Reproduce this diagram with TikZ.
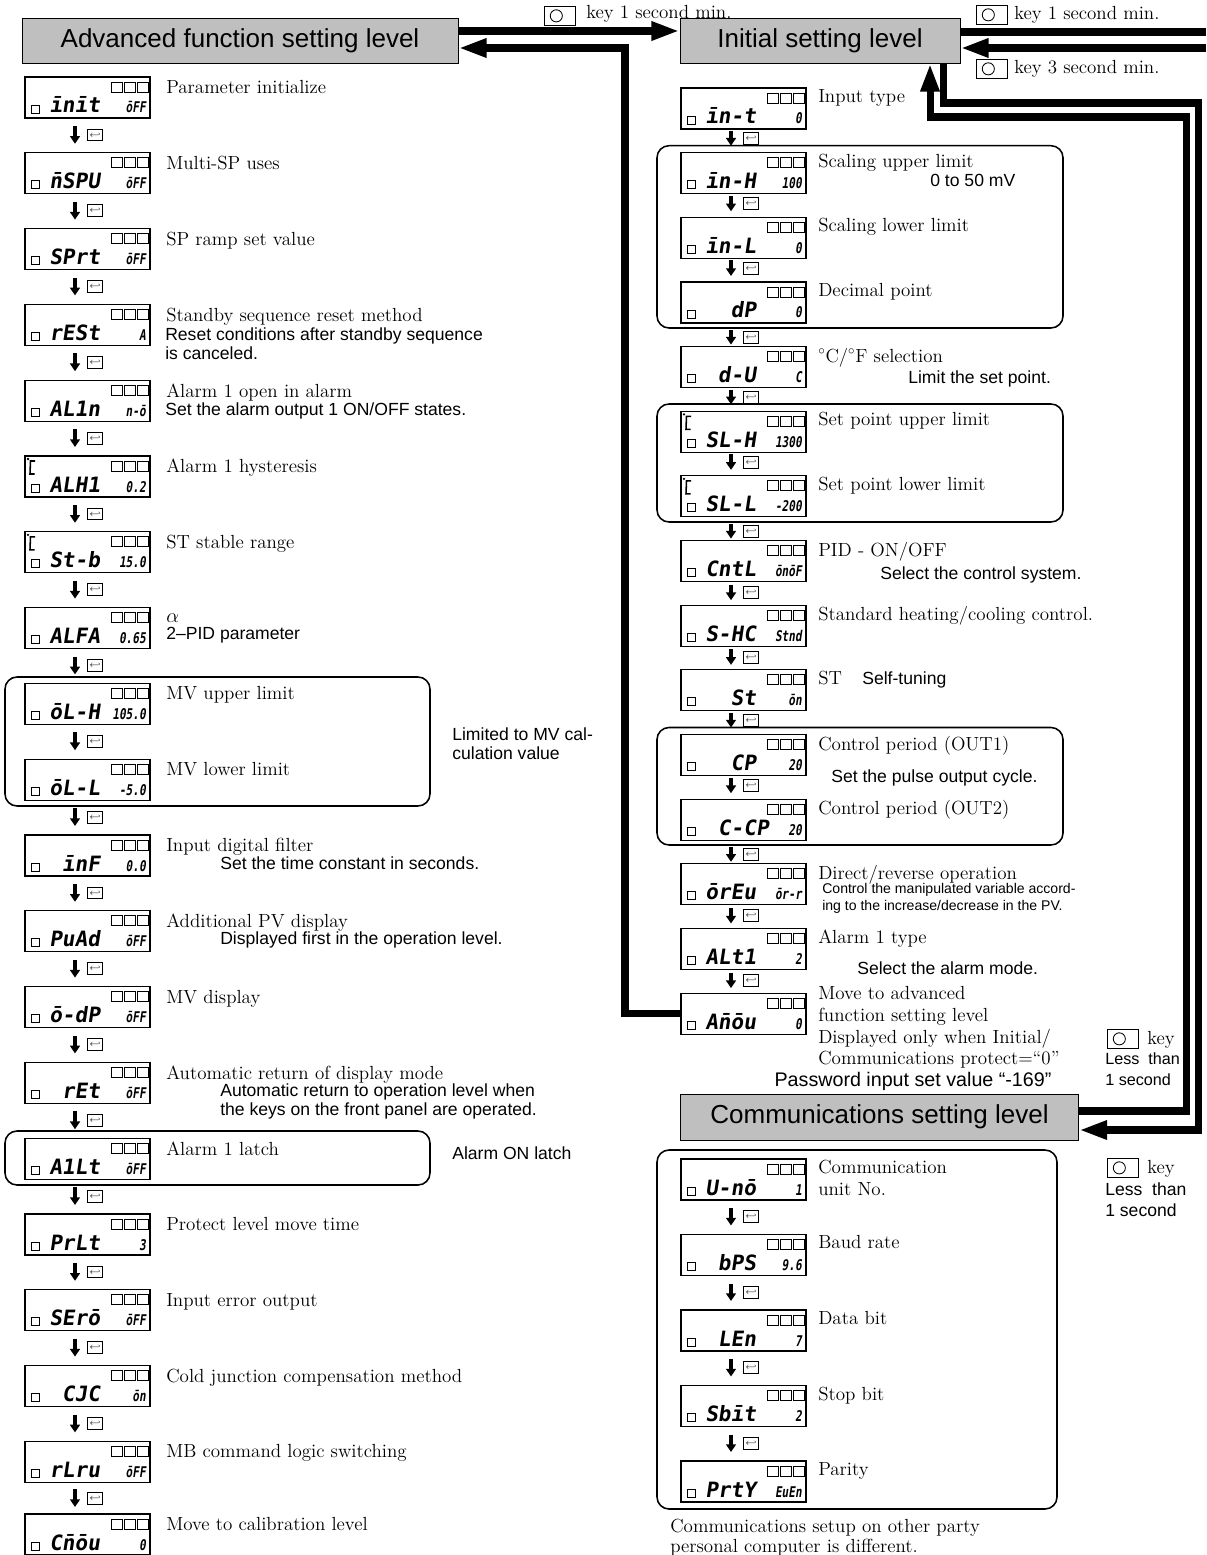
\documentclass[tikz,border=0pt]{standalone}
\usepackage{fontspec}
\setsansfont{Liberation Sans}
\newfontfamily\segfont[FakeSlant=0.15]{DejaVu Sans Mono}
\newfontfamily\segsmall[FakeSlant=0.15,FakeStretch=0.75]{DejaVu Sans Mono}
\usetikzlibrary{arrows.meta,calc}
\tikzset{
  lvl/.style={rectangle,draw,fill=black!25,line width=0.6pt,inner sep=0pt,
    minimum height=1.125cm,font=\sffamily\fontsize{18.5}{20}\selectfont},
  lcdbox/.style={rectangle,draw,line width=0.8pt,anchor=north west,inner sep=0pt,
    outer sep=0pt,minimum width=3.125cm,minimum height=1.025cm},
  lcdpix/.style={line width=0.7pt},
  segmain/.style={anchor=base west,inner sep=0pt,font=\segfont\bfseries\fontsize{15}{15}\selectfont},
  segval/.style={anchor=base east,inner sep=0pt,font=\segsmall\bfseries\fontsize{10.5}{10.5}\selectfont},
  lbl/.style={anchor=north west,inner sep=0pt,align=left,font=\fontsize{13.5}{15.5}\selectfont},
  note/.style={anchor=north west,inner sep=0pt,align=left,font=\sffamily\fontsize{12.5}{13.5}\selectfont},
  grp/.style={line width=1.1pt,rounded corners=0.3cm},
  flow/.style={line width=5pt,-{Triangle[length=20pt,width=12.5pt]}},
  flowline/.style={line width=5pt},
  modearrow/.style={line width=2.2pt,-{Triangle[length=5.5pt,width=7pt]}},
  modekey/.style={rectangle,draw,line width=0.6pt,inner sep=0pt,minimum width=11pt,
    minimum height=8.5pt,font=\fontsize{6}{6}\selectfont},
  keyicon/.style={rectangle,draw,line width=0.5pt,inner sep=0pt,anchor=north west,
    minimum width=22pt,minimum height=13.5pt,
    path picture={\draw[line width=0.6pt] ([xshift=8.5pt]path picture bounding box.west) circle (4.3pt);}}
}
% display: name, x, y, parameter, value, extra marks
\newcommand\lcd[6]{%
  \node[lcdbox] (#1) at (#2,#3) {};
  \begin{scope}[shift={(#2,#3)}]
    \foreach \k in {86,99,112} \draw[lcdpix] (\k,5) rectangle ++(11,10);
    \draw[lcdpix] (6,28) rectangle ++(8,8);
    \node[segmain] at (24,36) {#4};
    \node[segval] at (121,36) {#5};
    #6
  \end{scope}}
\newcommand\degc{\draw[line width=1.1pt] (10,5) -- (5.5,5) -- (5,18) -- (9.5,18); \fill (3,3) circle (0.9pt);}
% mode key step between two displays
\newcommand\nextp[4]{%
  \draw[modearrow] ($(#1.south west)+(50,#3)$) -- ($(#2.north west)+(50,-#4)$);
  \node[modekey] (k#2) at ($(#1.south west)!.5!(#2.north west)+(70,{(#3-#4)/2})$) {$\hookleftarrow$};}

\begin{document}
\begin{tikzpicture}[x=0.025cm,y=-0.025cm]
\useasboundingbox (0,0) rectangle (1206,1555);

% levels
\node[lvl,minimum width=10.9cm] (adv) at (240,40.5) {Advanced function setting level};
\node[lvl,minimum width=7cm] (init) at (820,40.5) {Initial setting level};
\node[lvl,minimum width=9.95cm,minimum height=1.15cm] (comm) at (879.5,1117) {Communications setting level};

% advanced function setting level
\lcd{pInit}{25}{77}{īnīt}{ōFF}{}
\node[lbl] (tInit) at (166,80) {Parameter initialize};
\lcd{pMspu}{25}{152.8}{n̄SPU}{ōFF}{}
\node[lbl] (tMspu) at (166,155.8) {Multi-SP uses};
\lcd{pSprt}{25}{228.6}{SPrt}{ōFF}{}
\node[lbl] (tSprt) at (166,231.6) {SP ramp set value};
\lcd{pRest}{25}{304.4}{rESt}{A}{}
\node[lbl] (tRest) at (166,307.4) {Standby sequence reset method};
\node[note] (nRest) at (165,327.5) {Reset conditions after standby sequence\\is canceled.};
\lcd{pAlon}{25}{380.2}{AL1n}{n-ō}{}
\node[lbl] (tAlon) at (166,383.2) {Alarm 1 open in alarm};
\node[note] (nAlon) at (165,402.5) {Set the alarm output 1 ON/OFF states.};
\lcd{pAlh}{25}{456}{ALH1}{0.2}{\degc}
\node[lbl] (tAlh) at (166,459) {Alarm 1 hysteresis};
\lcd{pStb}{25}{531.8}{St-b}{15.0}{\degc}
\node[lbl] (tStb) at (166,534.8) {ST stable range};
\lcd{pAlfa}{25}{607.6}{ALFA}{0.65}{}
\node[lbl,anchor=base west] (tAlfa) at (166,622) {$\alpha$};
\node[note] (nAlfa) at (166,627) {2--PID parameter};
\lcd{pOlh}{25}{683.4}{ōL-H}{105.0}{}
\node[lbl] (tOlh) at (166,686.4) {MV upper limit};
\lcd{pOll}{25}{759.2}{ōL-L}{-5.0}{}
\node[lbl] (tOll) at (166,762.2) {MV lower limit};
\lcd{pInf}{25}{835}{\ īnF}{0.0}{}
\node[lbl] (tInf) at (166,838) {Input digital filter};
\node[note] (nInf) at (220,856) {Set the time constant in seconds.};
\lcd{pPvad}{25}{910.8}{PuAd}{ōFF}{}
\node[lbl] (tPvad) at (166,913.8) {Additional PV display};
\node[note] (nPvad) at (220,931) {Displayed first in the operation level.};
\lcd{pOdp}{25}{986.6}{ō-dP}{ōFF}{}
\node[lbl] (tOdp) at (166,989.6) {MV display};
\lcd{pRet}{25}{1062.4}{\ rEt}{ōFF}{}
\node[lbl] (tRet) at (166,1065.4) {Automatic return of display mode};
\node[note] (nRet) at (220,1083) {Automatic return to operation level when\\the keys on the front panel are operated.};
\lcd{pAlt}{25}{1138.2}{A1Lt}{ōFF}{}
\node[lbl] (tAlt) at (166,1141.2) {Alarm 1 latch};
\lcd{pPrlt}{25}{1214}{PrLt}{3}{}
\node[lbl] (tPrlt) at (166,1217) {Protect level move time};
\lcd{pSero}{25}{1289.8}{SErō}{ōFF}{}
\node[lbl] (tSero) at (166,1292.8) {Input error output};
\lcd{pCjc}{25}{1365.6}{\ CJC}{ōn}{}
\node[lbl] (tCjc) at (166,1368.6) {Cold junction compensation method};
\lcd{pRlrv}{25}{1441.4}{rLru}{ōFF}{}
\node[lbl] (tRlrv) at (166,1444.4) {MB command logic switching};
\lcd{pCmov}{25}{1514}{Cn̄ōu}{0}{}
\node[lbl] (tCmov) at (166,1517) {Move to calibration level};

\draw[grp] (5,677) rectangle (430,806);
\node[note] (nMv) at (452,727) {Limited to MV cal-\\culation value};
\draw[grp] (5,1131) rectangle (430,1185);
\node[note] (nLatch) at (452,1146) {Alarm ON latch};

\nextp{pInit}{pMspu}{8}{9}
\nextp{pMspu}{pSprt}{8}{9}
\nextp{pSprt}{pRest}{8}{9}
\nextp{pRest}{pAlon}{8}{9}
\nextp{pAlon}{pAlh}{8}{9}
\nextp{pAlh}{pStb}{8}{9}
\nextp{pStb}{pAlfa}{8}{9}
\nextp{pAlfa}{pOlh}{8}{9}
\nextp{pOlh}{pOll}{8}{9}
\nextp{pOll}{pInf}{8}{9}
\nextp{pInf}{pPvad}{8}{9}
\nextp{pPvad}{pOdp}{8}{9}
\nextp{pOdp}{pRet}{8}{9}
\nextp{pRet}{pAlt}{8}{9}
\nextp{pAlt}{pPrlt}{8}{9}
\nextp{pPrlt}{pSero}{8}{9}
\nextp{pSero}{pCjc}{8}{9}
\nextp{pCjc}{pRlrv}{8}{9}
\nextp{pRlrv}{pCmov}{7}{7}

% initial setting level
\lcd{pInt}{681}{88}{īn-t}{0}{}
\node[lbl] (tInt) at (818,89) {Input type};
\lcd{pInh}{681}{152.7}{īn-H}{100}{}
\node[lbl] (tInh) at (818,153.7) {Scaling upper limit};
\node[note] (nInh) at (930,174) {0 to 50 mV};
\lcd{pInl}{681}{217.3}{īn-L}{0}{}
\node[lbl] (tInl) at (818,218.3) {Scaling lower limit};
\lcd{pDp}{681}{282}{\ \ dP}{0}{}
\node[lbl] (tDp) at (818,283) {Decimal point};
\lcd{pDu}{681}{346.6}{\ d-U}{C}{}
\node[lbl] (tDu) at (818,347.6) {$^\circ$C/$^\circ$F selection};
\node[note] (nDu) at (908,370) {Limit the set point.};
\lcd{pSlh}{681}{411.3}{SL-H}{1300}{\degc}
\node[lbl] (tSlh) at (818,412.3) {Set point upper limit};
\lcd{pSll}{681}{475.9}{SL-L}{-200}{\degc}
\node[lbl] (tSll) at (818,476.9) {Set point lower limit};
\lcd{pCntl}{681}{540.6}{CntL}{ōnōF}{}
\node[lbl] (tCntl) at (818,541.6) {PID - ON/OFF};
\node[note] (nCntl) at (880,566) {Select the control system.};
\lcd{pShc}{681}{605.2}{S-HC}{Stnd}{}
\node[lbl] (tShc) at (818,606.2) {Standard heating/cooling control.};
\lcd{pSt}{681}{669.9}{\ \ St}{ōn}{}
\node[lbl] (tSt) at (818,670.9) {ST};
\node[note,anchor=base west] (nSt) at ($(tSt.base west)+(44,0)$) {Self-tuning};
\lcd{pCp}{681}{734.5}{\ \ CP}{20}{}
\node[lbl] (tCp) at (818,735.5) {Control period (OUT1)};
\node[note] (nCp) at (831,769) {Set the pulse output cycle.};
\lcd{pCcp}{681}{799.2}{\ C-CP}{20}{}
\node[lbl] (tCcp) at (818,800.2) {Control period (OUT2)};
\lcd{pOrev}{681}{863.8}{ōrEu}{ōr-r}{}
\node[lbl] (tOrev) at (818,864.8) {Direct/reverse operation};
\node[note,font=\sffamily\fontsize{10}{11.5}\selectfont] (nOrev) at (822,883.5) {Control the manipulated variable accord-\\ing to the increase/decrease in the PV.};
\lcd{pAlty}{681}{928.5}{ALt1}{2}{}
\node[lbl] (tAlty) at (818,929.5) {Alarm 1 type};
\node[note] (nAlty) at (857,961) {Select the alarm mode.};
\lcd{pAmov}{681}{993.1}{An̄ōu}{0}{}
\node[lbl] (tAmov) at (818,986) {Move to advanced\\function setting level\\Displayed only when Initial/\\Communications protect=“0”};
\node[inner sep=0pt,font=\sffamily\fontsize{14}{16}\selectfont] (tPass) at (913,1081) {Password input set value “-169”};

\draw[grp] (657,145.7) rectangle (1063,328);
\draw[grp] (657,404) rectangle (1063,522);
\draw[grp] (657,727.5) rectangle (1063,845);

\nextp{pInt}{pInh}{2}{7}
\nextp{pInh}{pInl}{2}{6}
\nextp{pInl}{pDp}{2}{6}
\nextp{pDp}{pDu}{7}{2}
\nextp{pDu}{pSlh}{2}{7}
\nextp{pSlh}{pSll}{2}{6}
\nextp{pSll}{pCntl}{7}{2}
\nextp{pCntl}{pShc}{3}{5}
\nextp{pShc}{pSt}{3}{5}
\nextp{pSt}{pCp}{2}{7}
\nextp{pCp}{pCcp}{2}{6}
\nextp{pCcp}{pOrev}{7}{2}
\nextp{pOrev}{pAlty}{3}{5}
\nextp{pAlty}{pAmov}{3}{5}

% communications setting level
\lcd{pUno}{681}{1159}{U-nō}{1}{}
\node[lbl] (tUno) at (818,1160) {Communication\\unit No.};
\lcd{pBps}{681}{1234.5}{\ bPS}{9.6}{}
\node[lbl] (tBps) at (818,1235.5) {Baud rate};
\lcd{pLen}{681}{1310}{\ LEn}{7}{}
\node[lbl] (tLen) at (818,1311) {Data bit};
\lcd{pSbit}{681}{1385.5}{Sbīt}{2}{}
\node[lbl] (tSbit) at (818,1386.5) {Stop bit};
\lcd{pPrty}{681}{1461}{PrtY}{EuEn}{}
\node[lbl] (tPrty) at (818,1462) {Parity};
\draw[grp] (657,1150) rectangle (1057,1509);
\node[lbl,font=\fontsize{13.5}{14}\selectfont] (tOther) at (670,1519) {Communications setup on other party\\personal computer is different.};

\nextp{pUno}{pBps}{8}{9}
\nextp{pBps}{pLen}{8}{9}
\nextp{pLen}{pSbit}{8}{9}
\nextp{pSbit}{pPrty}{8}{9}

% key operations
\node[keyicon] (kAdv) at (544,6) {};
\node[lbl,anchor=base west] (tkAdv) at (586,19) {key 1 second min.};
\node[keyicon] (kOut) at (976,5) {};
\node[lbl,anchor=base west] (tkOut) at (1014,20) {key 1 second min.};
\node[keyicon] (kIn) at (976,59) {};
\node[lbl,anchor=base west] (tkIn) at (1014,74) {key 3 second min.};
\node[keyicon] (kTo) at (1107,1029) {};
\node[lbl,anchor=base west] (tkTo) at (1147,1044) {key};
\node[note,font=\sffamily\fontsize{11.5}{15}\selectfont] (nkTo) at (1105,1052) {Less\ \ than\\1 second};
\node[keyicon] (kFrom) at (1107,1158) {};
\node[lbl,anchor=base west] (tkFrom) at (1147,1173) {key};
\node[note,font=\sffamily\fontsize{12.5}{15.5}\selectfont] (nkFrom) at (1105,1182) {Less\ \ than\\1 second};

% level changes
\draw[flow] ([yshift=0.2375cm]adv.east) -- ([yshift=0.2375cm]init.west);
\coordinate (retBend) at (625,48);
\draw[flow] (pAmov.west) -| (retBend) -- (retBend -| adv.east);
\coordinate (outOp) at (1206,32);
\draw[flowline] (outOp -| init.east) -- (outOp);
\coordinate (inProt) at (1206,48);
\draw[flow] (inProt) -- (inProt -| init.east);
\coordinate (a1) at (943,103);
\coordinate (a2) at (1198,1130);
\draw[flow] (a1 |- init.south) -- (a1) -| (a2) -- (a2 -| comm.east);
\coordinate (b1) at (1186,1111);
\coordinate (b2) at (930,117);
\draw[flow] (b1 -| comm.east) -- (b1) |- (b2) -- (b2 |- init.south);
\end{tikzpicture}
\end{document}
